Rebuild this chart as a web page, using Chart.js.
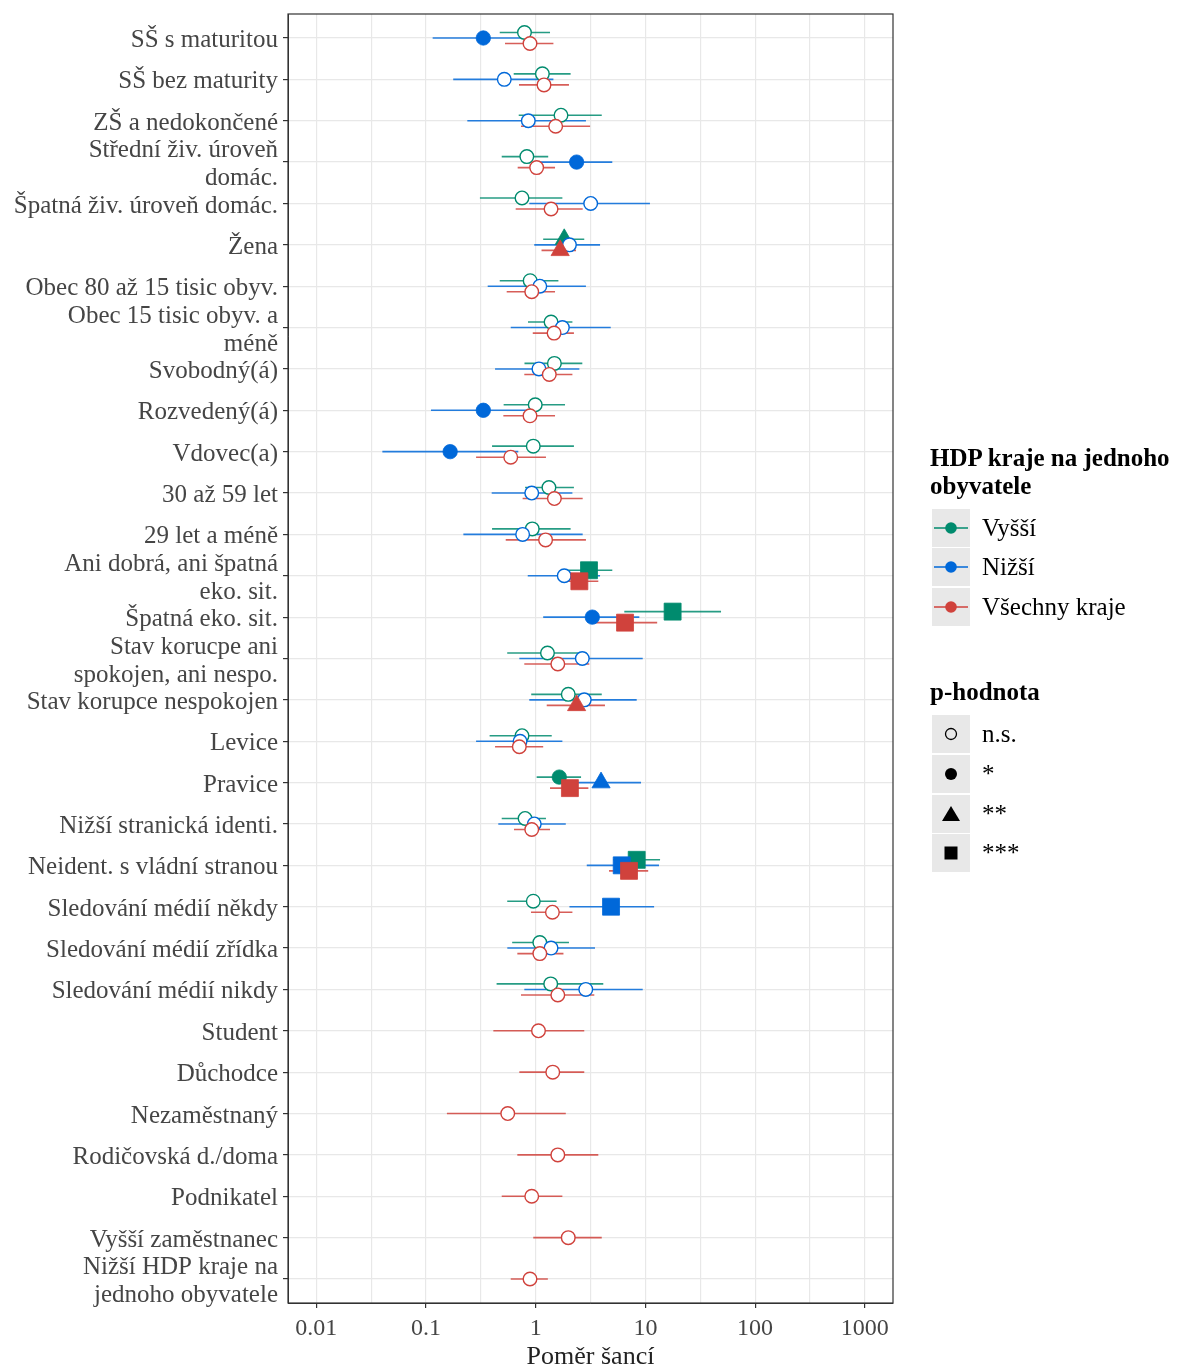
<!DOCTYPE html>
<html>
<head>
<meta charset="utf-8">
<script src="https://cdn.jsdelivr.net/npm/chart.js@4.4.1/dist/chart.umd.min.js"></script>
<style>
  body { margin: 0; background: #fff; }
  #wrap { position: relative; width: 1184px; height: 1370px; font-family: 'Liberation Serif', serif; }
  #chart { position: absolute; left: 0; top: 0; }
  .lg-title { position: absolute; left: 930px; width: 254px; font-weight: bold; font-size: 25px; line-height: 28px; color: #000; }
  .lg-row { position: absolute; left: 932px; height: 38px; display: flex; align-items: center; }
  .lg-key { width: 38px; height: 38px; background: #E8E8E8; }
  .lg-text { margin-left: 12px; font-size: 25px; color: #000; white-space: nowrap; }
</style>
</head>
<body>
<div id="wrap">
  <canvas id="chart" width="1184" height="1370"></canvas>
  <div id="legend"></div>
</div>
<script>
const categories = [
    'SŠ s maturitou', 'SŠ bez maturity', 'ZŠ a nedokončené', ['Střední živ. úroveň', 'domác.'],
    'Špatná živ. úroveň domác.', 'Žena', 'Obec 80 až 15 tisic obyv.', ['Obec 15 tisic obyv. a', 'méně'],
    'Svobodný(á)', 'Rozvedený(á)', 'Vdovec(a)', '30 až 59 let', '29 let a méně',
    ['Ani dobrá, ani špatná', 'eko. sit.'], 'Špatná eko. sit.', ['Stav korucpe ani', 'spokojen, ani nespo.'],
    'Stav korupce nespokojen', 'Levice', 'Pravice', 'Nižší stranická identi.', 'Neident. s vládní stranou',
    'Sledování médií někdy', 'Sledování médií zřídka', 'Sledování médií nikdy', 'Student', 'Důchodce',
    'Nezaměstnaný', 'Rodičovská d./doma', 'Podnikatel', 'Vyšší zaměstnanec', ['Nižší HDP kraje na', 'jednoho obyvatele']
];

// Vyšší (green)
const vyssiOR = [0.79, 1.15, 1.70, 0.83, 0.75, 1.82, 0.89, 1.38, 1.48, 0.99, 0.95, 1.32, 0.93, 3.06, 17.7, 1.28, 1.98, 0.75, 1.64, 0.80, 8.33, 0.95, 1.09, 1.37];
const vyssiLo = [0.47, 0.63, 0.70, 0.49, 0.31, 1.17, 0.47, 0.85, 0.79, 0.51, 0.40, 0.80, 0.40, 1.92, 6.42, 0.55, 0.91, 0.38, 1.02, 0.49, 5.10, 0.55, 0.61, 0.44];
const vyssiHi = [1.35, 2.08, 4.00, 1.30, 1.75, 2.77, 1.61, 2.16, 2.66, 1.85, 2.23, 2.23, 2.08, 4.99, 48.9, 2.92, 4.00, 1.40, 2.59, 1.24, 13.6, 1.55, 2.01, 4.13];
const vyssiSig = ['ns', 'ns', 'ns', 'ns', 'ns', '**', 'ns', 'ns', 'ns', 'ns', 'ns', 'ns', 'ns', '***', '***', 'ns', 'ns', 'ns', '*', 'ns', '***', 'ns', 'ns', 'ns'];

// Nižší (blue)
const nizsiOR = [0.333, 0.517, 0.856, 2.36, 3.17, 2.03, 1.09, 1.75, 1.07, 0.333, 0.166, 0.92, 0.76, 1.82, 3.28, 2.66, 2.77, 0.72, 3.94, 0.97, 6.08, 4.86, 1.38, 2.86];
const nizsiLo = [0.115, 0.177, 0.238, 1.06, 0.874, 0.97, 0.365, 0.592, 0.426, 0.111, 0.040, 0.397, 0.219, 0.846, 1.17, 0.709, 0.874, 0.286, 1.79, 0.456, 2.92, 2.03, 0.551, 0.787];
const nizsiHi = [0.95, 1.45, 2.87, 4.99, 11.0, 3.86, 2.87, 4.83, 2.50, 0.95, 0.694, 2.16, 2.68, 3.86, 8.80, 9.45, 8.33, 1.75, 9.12, 1.88, 13.3, 12.0, 3.47, 9.45];
const nizsiSig = ['*', 'ns', 'ns', '*', 'ns', 'ns', 'ns', 'ns', 'ns', '*', '*', 'ns', 'ns', 'ns', '*', 'ns', 'ns', 'ns', '**', 'ns', '***', '***', 'ns', 'ns'];

// Všechny kraje (red)
const vsechnyOR = [0.887, 1.19, 1.52, 1.02, 1.38, 1.67, 0.92, 1.47, 1.33, 0.887, 0.592, 1.48, 1.23, 2.50, 6.52, 1.59, 2.36, 0.709, 2.05, 0.92, 7.09, 1.42, 1.09, 1.59, 1.06, 1.43, 0.556, 1.59, 0.92, 1.98, 0.887];
const vsechnyLo = [0.525, 0.704, 0.734, 0.685, 0.657, 1.13, 0.544, 0.94, 0.787, 0.507, 0.286, 0.76, 0.533, 1.73, 3.40, 0.787, 1.26, 0.426, 1.35, 0.634, 4.66, 0.906, 0.68, 0.734, 0.411, 0.709, 0.155, 0.68, 0.49, 0.95, 0.592];
const vsechnyHi = [1.45, 2.01, 3.13, 1.50, 2.68, 2.33, 1.50, 2.23, 2.16, 1.50, 1.24, 2.68, 2.87, 3.72, 12.8, 3.08, 4.28, 1.17, 3.02, 1.35, 10.6, 2.16, 1.79, 3.42, 2.77, 2.77, 1.88, 3.72, 1.75, 4.00, 1.29];
const vsechnySig = ['ns', 'ns', 'ns', 'ns', 'ns', '**', 'ns', 'ns', 'ns', 'ns', 'ns', 'ns', 'ns', '***', '***', 'ns', '**', 'ns', '***', 'ns', '***', 'ns', 'ns', 'ns', 'ns', 'ns', 'ns', 'ns', 'ns', 'ns', 'ns'];

const xTickValues = [0.01, 0.1, 1, 10, 100, 1000];
const xTickLabels = ['0.01', '0.1', '1', '10', '100', '1000'];
const xMinorValues = [0.0316, 0.316, 3.16, 31.6, 316];

const sigLabels = ['n.s.', '*', '**', '***'];

const series = [
    { label: 'Vyšší', color: '#008B6E', line: 'rgba(0, 139, 110, 0.85)', or: vyssiOR, lo: vyssiLo, hi: vyssiHi, sig: vyssiSig },
    { label: 'Nižší', color: '#0068D9', line: 'rgba(0, 104, 217, 0.85)', or: nizsiOR, lo: nizsiLo, hi: nizsiHi, sig: nizsiSig },
    { label: 'Všechny kraje', color: '#D0423C', line: 'rgba(208, 66, 60, 0.85)', or: vsechnyOR, lo: vsechnyLo, hi: vsechnyHi, sig: vsechnySig }
];

// dodge: series present in a row share 0.4 of the row height
const dodgeY = (s, i) => {
    const present = series.filter(d => d.or[i] != null);
    const k = present.indexOf(s);
    const n = present.length;
    return i + (k - (n - 1) / 2) * (0.4 / n);
};

const shapeFor = { 'ns': 'circle', '*': 'circle', '**': 'triangle', '***': 'rect' };
const radiusFor = { 'ns': 6.8, '*': 7.2, '**': 10.5, '***': 12 };

const datasets = series.map((s, si) => ({
    label: s.label,
    order: 3 - si,
    data: categories.map((c, i) => s.or[i] == null ? null : ({ x: s.or[i], y: dodgeY(s, i), lo: s.lo[i], hi: s.hi[i], sig: s.sig[i] })).filter(d => d),
    showLine: false,
    lineColor: s.line,
    pointStyle: ctx => shapeFor[ctx.raw.sig],
    pointRadius: ctx => radiusFor[ctx.raw.sig],
    pointBackgroundColor: ctx => ctx.raw.sig === 'ns' ? '#ffffff' : s.color,
    pointBorderColor: s.color,
    pointBorderWidth: ctx => ctx.raw.sig === 'ns' ? 1.4 : 0.8
}));

// horizontal CI lines, drawn under the points
const errorBars = {
    id: 'errorBars',
    beforeDatasetsDraw(chart) {
        const { ctx, scales: { x, y } } = chart;
        ctx.save();
        ctx.lineWidth = 1.6;
        for (let di = chart.data.datasets.length - 1; di >= 0; di--) {
            const ds = chart.data.datasets[di];
            ctx.strokeStyle = ds.lineColor;
            ds.data.forEach(d => {
                const py = y.getPixelForValue(d.y);
                ctx.beginPath();
                ctx.moveTo(x.getPixelForValue(d.lo), py);
                ctx.lineTo(x.getPixelForValue(d.hi), py);
                ctx.stroke();
            });
        }
        ctx.restore();
    }
};

const panelBorder = {
    id: 'panelBorder',
    afterDraw(chart) {
        const { ctx, chartArea: a } = chart;
        ctx.save();
        ctx.strokeStyle = '#333333';
        ctx.lineWidth = 1.2;
        ctx.strokeRect(a.left, a.top, a.right - a.left, a.bottom - a.top);
        ctx.restore();
    }
};

new Chart(document.getElementById('chart'), {
    type: 'scatter',
    data: { datasets },
    plugins: [errorBars, panelBorder],
    options: {
        responsive: false,
        animation: false,
        events: [],
        layout: { padding: { top: 14, right: 291, left: 0, bottom: 0 } },
        plugins: { legend: { display: false }, tooltip: { enabled: false } },
        scales: {
            x: {
                type: 'logarithmic',
                min: 0.00552,
                max: 1807,
                bounds: 'data',
                afterBuildTicks: s => { s.ticks = [...xTickValues, ...xMinorValues].sort((a, b) => a - b).map(v => ({ value: v })); },
                afterFit: s => { s.height = 67; s.paddingLeft = 0; s.paddingRight = 0; },
                grid: {
                    color: '#E8E8E8',
                    lineWidth: 1.2,
                    tickLength: 5,
                    tickColor: ctx => xTickValues.includes(ctx.tick && ctx.tick.value) ? '#333333' : 'rgba(0,0,0,0)'
                },
                border: { color: '#333333', width: 1 },
                ticks: {
                    autoSkip: false,
                    maxRotation: 0,
                    padding: 6,
                    color: '#454545',
                    font: { family: 'Liberation Serif', size: 24 },
                    callback: v => {
                        const k = xTickValues.indexOf(v);
                        return k >= 0 ? xTickLabels[k] : '';
                    }
                },
                title: {
                    display: true,
                    text: 'Poměr šancí',
                    color: '#222222',
                    font: { family: 'Liberation Serif', size: 26, lineHeight: 1 },
                    padding: { top: 0, bottom: 0 }
                }
            },
            y: {
                type: 'linear',
                reverse: true,
                min: -0.58,
                max: categories.length - 1 + 0.58,
                afterBuildTicks: s => { s.ticks = categories.map((c, i) => ({ value: i })); },
                afterFit: s => { s.width = 288; s.paddingTop = 0; s.paddingBottom = 0; },
                grid: { color: '#E8E8E8', lineWidth: 1.2, tickLength: 5, tickColor: '#333333' },
                border: { color: '#333333', width: 1 },
                ticks: {
                    autoSkip: false,
                    padding: 5,
                    labelOffset: 2.5,
                    color: '#454545',
                    font: { family: 'Liberation Serif', size: 25, lineHeight: 1.12 },
                    callback: v => categories[v]
                }
            }
        }
    }
});

// legend (two ggplot-style guides)
const legendEl = document.getElementById('legend');
const addTitle = (text, top) => {
    const el = document.createElement('div');
    el.className = 'lg-title';
    el.style.top = top + 'px';
    el.textContent = text;
    legendEl.appendChild(el);
};
const addRow = (svg, text, top) => {
    const row = document.createElement('div');
    row.className = 'lg-row';
    row.style.top = top + 'px';
    row.innerHTML = '<div class="lg-key"><svg width="38" height="38">' + svg + '</svg></div>';
    const t = document.createElement('span');
    t.className = 'lg-text';
    t.textContent = text;
    row.appendChild(t);
    legendEl.appendChild(row);
};

addTitle('HDP kraje na jednoho obyvatele', 444);
const colorTops = [509, 548, 588];
series.forEach((s, i) => {
    addRow('<line x1="2" y1="19" x2="36" y2="19" stroke="' + s.color + '" stroke-width="1.6"/>' +
        '<circle cx="19" cy="19" r="5.8" fill="' + s.color + '"/>', s.label, colorTops[i]);
});

addTitle('p-hodnota', 678);
const shapeSvg = [
    '<circle cx="19" cy="19" r="5.5" fill="none" stroke="#000" stroke-width="1.3"/>',
    '<circle cx="19" cy="19" r="6" fill="#000"/>',
    '<polygon points="19,11 28,26 10,26" fill="#000"/>',
    '<rect x="12.5" y="12.5" width="13" height="13" fill="#000"/>'
];
const shapeTops = [715, 755, 795, 834];
sigLabels.forEach((lab, i) => addRow(shapeSvg[i], lab, shapeTops[i]));
</script>
</body>
</html>
